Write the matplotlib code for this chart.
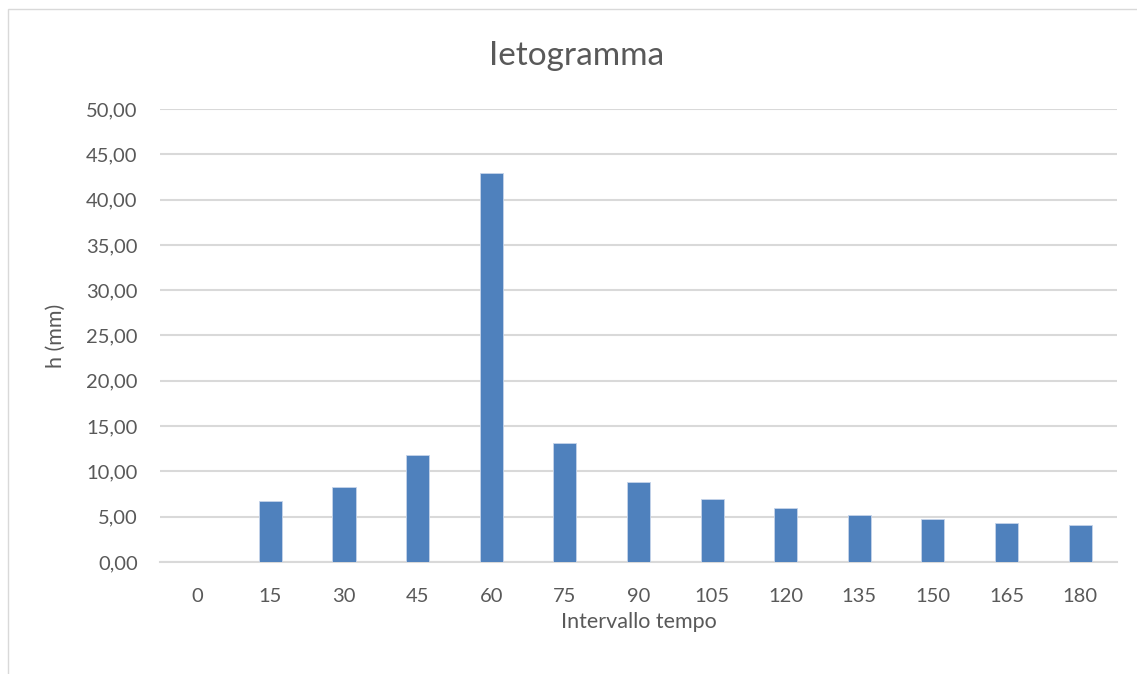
import matplotlib
matplotlib.use("Agg")
import matplotlib.pyplot as plt
from matplotlib.patches import Rectangle
from matplotlib.ticker import FuncFormatter

categories = ["0", "15", "30", "45", "60", "75", "90", "105", "120", "135", "150", "165", "180"]
values = [0.0, 6.71, 8.30, 11.77, 42.96, 13.10, 8.78, 6.94, 5.94, 5.20, 4.72, 4.31, 4.06]
title = "Ietogramma"
xlabel = "Intervallo tempo"
ylabel = "h (mm)"

plt.rcParams['font.family'] = ['Lato', 'DejaVu Sans']
text_color = "#595959"

fig = plt.figure(figsize=(11.37, 6.74), dpi=100)
fig.patches.append(Rectangle((0.007, -0.01), 1.0, 0.996, transform=fig.transFigure,
                             fill=False, edgecolor="#d9d9d9", linewidth=1.0))
ax = fig.add_axes([0.1407, 0.1662, 0.8417, 0.6721])

x = list(range(len(categories)))
ax.bar(x, values, width=0.313, color="#4f81bd", edgecolor="#c6d4ea", linewidth=0.6, zorder=3)

ax.set_xlim(-0.5, len(categories) - 0.5)
ax.set_ylim(0, 50)
ax.set_yticks([i * 5 for i in range(11)])
ax.yaxis.set_major_formatter(FuncFormatter(lambda v, p: f"{v:.2f}".replace(".", ",")))
ax.set_xticks(x)
ax.set_xticklabels(categories)

ax.grid(axis="y", color="#d9d9d9", linewidth=1.5, zorder=0)
ax.set_axisbelow(True)
for s in ["top", "right", "left"]:
    ax.spines[s].set_visible(False)
ax.spines["bottom"].set_color("#d9d9d9")
ax.spines["bottom"].set_linewidth(1.5)
ax.tick_params(axis="both", length=0, labelsize=14.5, colors=text_color)
ax.tick_params(axis="x", pad=19)
ax.tick_params(axis="y", pad=16)

fig.text(577 / 1137, 1 - 56 / 674, title, fontsize=24, color=text_color, ha="center", va="center")
ax.set_xlabel(xlabel, fontsize=15.5, color=text_color, labelpad=5)
ax.set_ylabel(ylabel, fontsize=15.5, color=text_color, labelpad=15)

fig.savefig("out.png", dpi=100)
